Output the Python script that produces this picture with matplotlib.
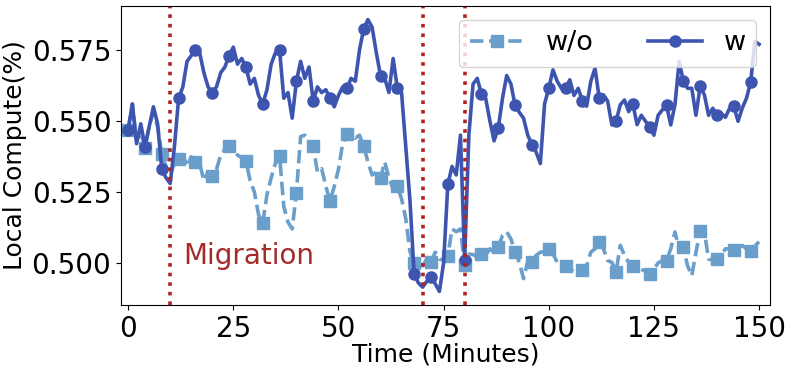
import matplotlib
matplotlib.use("Agg")
import matplotlib.pyplot as plt
import numpy as np

# minutes 0..150
minutes = np.arange(151)

local_wo = [
    0.547, 0.556, 0.543, 0.546, 0.5406, 0.548, 0.553, 0.548, 0.5382, 0.534,
    0.531, 0.535, 0.5365, 0.538, 0.534, 0.5374, 0.5356, 0.535, 0.529, 0.532,
    0.5308, 0.533, 0.538, 0.540, 0.5411, 0.540, 0.538, 0.537, 0.536, 0.529,
    0.525, 0.517, 0.5141, 0.524, 0.530, 0.535, 0.5377, 0.520, 0.5144, 0.512,
    0.5248, 0.5445, 0.545, 0.543, 0.5411, 0.532, 0.5332, 0.527, 0.5217, 0.527,
    0.533, 0.542, 0.5453, 0.546, 0.544, 0.545, 0.5411, 0.5356, 0.531, 0.532,
    0.530, 0.5356, 0.530, 0.526, 0.527, 0.5226, 0.5156, 0.504, 0.500, 0.500,
    0.499, 0.5014, 0.5002, 0.5038, 0.5014, 0.501, 0.5024, 0.512, 0.511, 0.512,
    0.4993, 0.5031, 0.503, 0.502, 0.5031, 0.5027, 0.505, 0.5038, 0.5058, 0.5097,
    0.511, 0.5085, 0.504, 0.5002, 0.4945, 0.5005, 0.5005, 0.5027, 0.5038, 0.504,
    0.505, 0.5033, 0.5002, 0.4995, 0.499, 0.4978, 0.4969, 0.4975, 0.4976, 0.499,
    0.5038, 0.505, 0.5075, 0.505, 0.5009, 0.5002, 0.4969, 0.5062, 0.5027, 0.5002,
    0.4988, 0.4978, 0.4978, 0.497, 0.4961, 0.4978, 0.500, 0.5009, 0.5008, 0.505,
    0.5109, 0.505, 0.5055, 0.499, 0.4955, 0.5038, 0.5114, 0.5109, 0.5014, 0.501,
    0.5014, 0.5027, 0.505, 0.505, 0.5047, 0.505, 0.5062, 0.505, 0.5044, 0.506,
    0.5075,
]

local_w = [
    0.547, 0.556, 0.542, 0.549, 0.541, 0.548, 0.555, 0.549, 0.533, 0.530,
    0.528, 0.541, 0.558, 0.562, 0.571, 0.573, 0.575, 0.574, 0.567, 0.562,
    0.560, 0.562, 0.567, 0.569, 0.573, 0.576, 0.570, 0.572, 0.569, 0.563,
    0.565, 0.559, 0.556, 0.561, 0.570, 0.574, 0.575, 0.558, 0.560, 0.551,
    0.564, 0.571, 0.565, 0.569, 0.557, 0.562, 0.560, 0.561, 0.558, 0.555,
    0.559, 0.562, 0.5615, 0.565, 0.564, 0.575, 0.5824, 0.5857, 0.583, 0.574,
    0.566, 0.565, 0.560, 0.572, 0.5615, 0.560, 0.541, 0.522, 0.496, 0.493,
    0.4915, 0.4935, 0.495, 0.4927, 0.490, 0.500, 0.5277, 0.534, 0.531, 0.545,
    0.501, 0.545, 0.563, 0.565, 0.5594, 0.558, 0.550, 0.543, 0.5476, 0.558,
    0.566, 0.563, 0.5555, 0.553, 0.551, 0.545, 0.5417, 0.539, 0.535, 0.556,
    0.5615, 0.568, 0.564, 0.5615, 0.5615, 0.5645, 0.559, 0.5615, 0.557, 0.5552,
    0.564, 0.5686, 0.558, 0.5592, 0.557, 0.5486, 0.5499, 0.5557, 0.5574, 0.5533,
    0.5559, 0.5487, 0.552, 0.5499, 0.548, 0.545, 0.552, 0.5539, 0.5555, 0.5486,
    0.5557, 0.571, 0.564, 0.5615, 0.5615, 0.552, 0.5622, 0.5592, 0.552, 0.5545,
    0.552, 0.5527, 0.5513, 0.5545, 0.5552, 0.5499, 0.5545, 0.558, 0.5636, 0.578,
    0.577,
]

migration_times = [10, 70, 80]
x_ticks = [0, 25, 50, 75, 100, 125, 150]
y_ticks = [0.500, 0.525, 0.550, 0.575]

fig = plt.figure(figsize=(7.93, 3.74), dpi=100)
ax = fig.add_axes([0.1526, 0.1845, 0.8184, 0.7995])

ax.plot(minutes, local_wo, color="#6a9ecb", linestyle="--", linewidth=2.6,
        marker="s", markersize=8, markevery=4, label="w/o")
ax.plot(minutes, local_w, color="#3e55b0", linestyle="-", linewidth=2.6,
        marker="o", markersize=8, markevery=4, label="w")

for t in migration_times:
    ax.axvline(t, color="#b22222", linestyle=":", linewidth=2.6)

ax.text(13, 0.4995, "Migration", color="#a52a2a", fontsize=20)

ax.set_xlim(-1.7, 152.6)
ax.set_xticks(x_ticks)
ax.set_yticks(y_ticks)
ax.set_yticklabels([f"{v:.3f}" for v in y_ticks])
ax.tick_params(labelsize=20)
ax.set_xlabel("Time (Minutes)", fontsize=18, labelpad=0)
ax.set_ylabel("Local Compute(%)", fontsize=18, labelpad=3)

ax.legend(loc="upper right", ncol=2, fontsize=19.5)

fig.savefig("out.png", dpi=100)
